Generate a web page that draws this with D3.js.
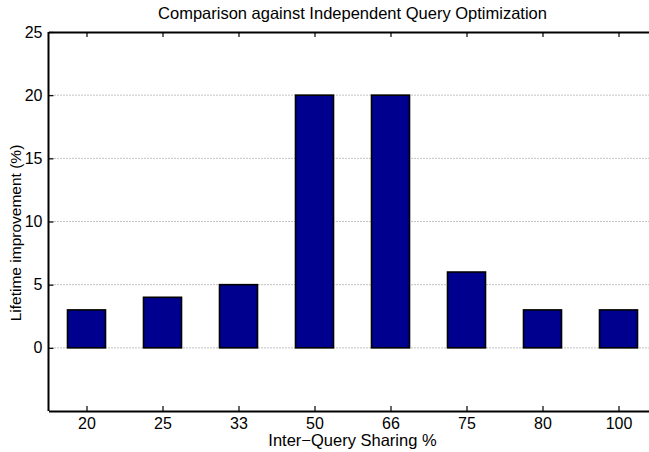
<!DOCTYPE html>
<html>
<head>
<meta charset="utf-8">
<script src="https://cdn.jsdelivr.net/npm/d3@7"></script>
<style>
  html, body { margin: 0; padding: 0; background: #fff; }
  svg { display: block; font-family: "Liberation Sans", Arial, Helvetica, sans-serif; }
</style>
</head>
<body>
<svg id="chart" width="649" height="452"></svg>
<script>
// Inter-query sharing levels and the lifetime improvement measured at each
const categories = ["20", "25", "33", "50", "66", "75", "80", "100"];
const improvement = [3, 4, 5, 20, 20, 6, 3, 3];
const yTicks = [0, 5, 10, 15, 20, 25];

const titleText = "Comparison against Independent Query Optimization";
const xLabelText = "Inter\u2212Query Sharing %";
const yLabelText = "Lifetime improvement (%)";

const svg = d3.select("#chart");
const plot = { left: 48.5, right: 656.5, top: 32, bottom: 411 };

// Category positions 1..8 on a continuous axis spanning 0.5..8.5
const x = d3.scaleLinear().domain([0.5, categories.length + 0.5]).range([plot.left, plot.right]);
const y = d3.scaleLinear().domain([-5, 25]).range([plot.bottom, plot.top]);
const barWidth = 0.5;

const labelSize = 16.5;
const tickSize = 16;

// Dotted horizontal grid
svg.append("g")
  .selectAll("line")
  .data(yTicks.filter(d => d < 25))
  .join("line")
  .attr("x1", plot.left).attr("x2", plot.right)
  .attr("y1", d => y(d)).attr("y2", d => y(d))
  .attr("stroke", "#888").attr("stroke-width", 1)
  .attr("stroke-dasharray", "1,2");

// Bars
svg.append("g")
  .selectAll("rect")
  .data(improvement)
  .join("rect")
  .attr("x", (d, i) => x(i + 1 - barWidth / 2))
  .attr("width", (d, i) => x(i + 1 + barWidth / 2) - x(i + 1 - barWidth / 2))
  .attr("y", d => y(d))
  .attr("height", d => y(0) - y(d))
  .attr("fill", "#00008f")
  .attr("stroke", "#000").attr("stroke-width", 1.6);

const idx = d3.range(1, categories.length + 1);

// Bottom axis with category labels
const xAxisBottom = d3.axisBottom(x)
  .tickValues(idx)
  .tickFormat(i => categories[i - 1])
  .tickSizeInner(-5).tickSizeOuter(0).tickPadding(8);
const gb = svg.append("g").attr("transform", `translate(0,${plot.bottom})`).call(xAxisBottom);

// Top axis: ticks only
const xAxisTop = d3.axisTop(x).tickValues(idx).tickFormat("")
  .tickSizeInner(-5).tickSizeOuter(0);
const gt = svg.append("g").attr("transform", `translate(0,${plot.top})`).call(xAxisTop);

// Left axis with value labels
const yAxisLeft = d3.axisLeft(y).tickValues(yTicks)
  .tickSizeInner(-5).tickSizeOuter(0).tickPadding(6);
const gl = svg.append("g").attr("transform", `translate(${plot.left},0)`).call(yAxisLeft);

// Right axis: ticks only
const yAxisRight = d3.axisRight(y).tickValues(yTicks).tickFormat("")
  .tickSizeInner(-5).tickSizeOuter(0);
const gr = svg.append("g").attr("transform", `translate(${plot.right},0)`).call(yAxisRight);

for (const g of [gb, gt, gl, gr]) {
  g.select(".domain").attr("stroke", "#000").attr("stroke-width", 2);
  g.selectAll(".tick line").attr("stroke", "#000").attr("stroke-width", 1.2);
  g.selectAll(".tick text").attr("fill", "#000")
    .attr("font-family", "Liberation Sans, Arial, sans-serif")
    .attr("font-size", tickSize);
}
gb.selectAll(".tick text").attr("dy", "0.62em");
// Left domain spans the full height
gl.select(".domain").attr("d", `M0,${plot.bottom}V${plot.top}`);

// Title and axis labels
svg.append("text")
  .attr("x", (plot.left + plot.right) / 2).attr("y", 19)
  .attr("text-anchor", "middle").attr("font-size", labelSize)
  .text(titleText);

svg.append("text")
  .attr("x", (plot.left + plot.right) / 2).attr("y", 446)
  .attr("text-anchor", "middle").attr("font-size", labelSize)
  .text(xLabelText);

svg.append("text")
  .attr("transform", `translate(21,233) rotate(-90)`)
  .attr("text-anchor", "middle").attr("font-size", 15.5)
  .text(yLabelText);
</script>
</body>
</html>
